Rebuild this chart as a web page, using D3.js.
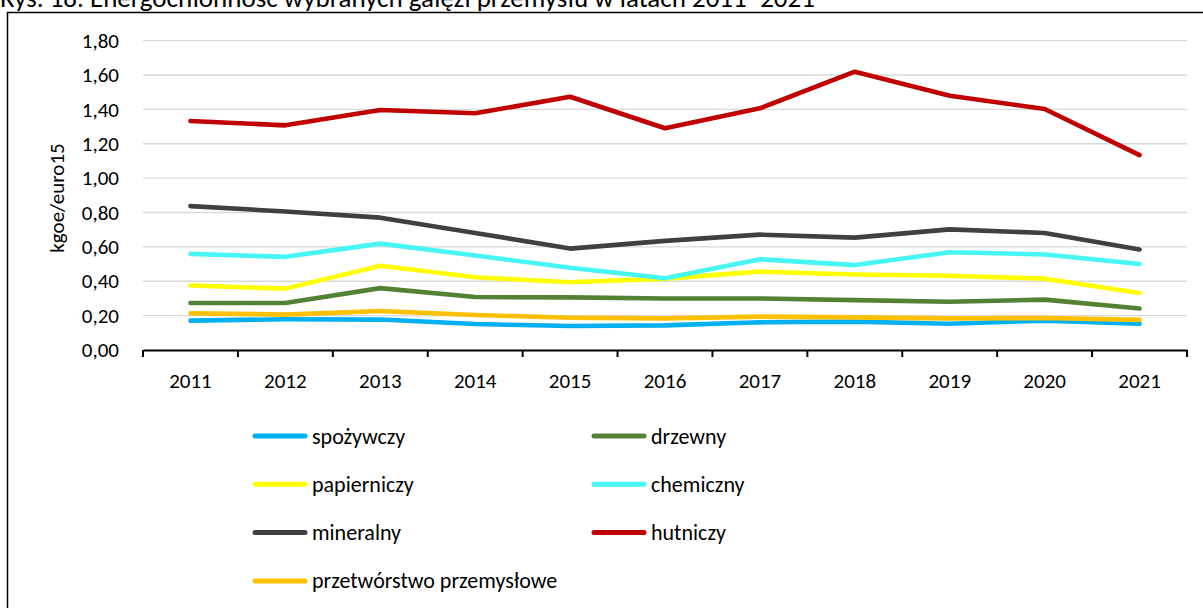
<!DOCTYPE html>
<html>
<head>
<meta charset="utf-8">
<script src="https://cdn.jsdelivr.net/npm/d3@7"></script>
<style>
  html, body { margin: 0; padding: 0; background: #fff; overflow: hidden; }
  svg { display: block; }
  svg text { font-family: Carlito, Calibri, Lato, sans-serif; fill: #000; }
</style>
</head>
<body>
<script>
// lata i wartości (kgoe/euro15)
const years = ['2011','2012','2013','2014','2015','2016','2017','2018','2019','2020','2021'];
const yTicks = [0, 0.2, 0.4, 0.6, 0.8, 1.0, 1.2, 1.4, 1.6, 1.8];

const spozywczy   = [0.171, 0.179, 0.177, 0.151, 0.140, 0.143, 0.161, 0.165, 0.153, 0.171, 0.153];
const drzewny     = [0.273, 0.273, 0.360, 0.308, 0.306, 0.300, 0.300, 0.290, 0.281, 0.293, 0.241];
const papierniczy = [0.375, 0.357, 0.490, 0.423, 0.394, 0.415, 0.456, 0.439, 0.432, 0.415, 0.332];
const chemiczny   = [0.559, 0.542, 0.619, 0.550, 0.478, 0.417, 0.528, 0.494, 0.569, 0.556, 0.500];
const mineralny   = [0.837, 0.806, 0.770, 0.681, 0.590, 0.635, 0.671, 0.654, 0.702, 0.681, 0.585];
const hutniczy    = [1.332, 1.307, 1.396, 1.377, 1.473, 1.290, 1.406, 1.619, 1.479, 1.402, 1.134];
const przetworstwo= [0.214, 0.206, 0.227, 0.204, 0.188, 0.184, 0.194, 0.190, 0.184, 0.186, 0.175];

const seriesNames  = ['spożywczy','drzewny','papierniczy','chemiczny','mineralny','hutniczy','przetwórstwo przemysłowe'];
const seriesValues = [spozywczy, drzewny, papierniczy, chemiczny, mineralny, hutniczy, przetworstwo];
const seriesColors = ['#00B0F0','#548235','#FFFF00','#47F5F5','#404040','#C00000','#FFC000'];

const W = 1203, H = 608;
const pLeft = 143, pRight = 1187, pTop = 40.6, pBottom = 350;
const font = 'Carlito, Calibri, Lato, sans-serif';

const svg = d3.select('body').append('svg')
    .attr('width', W)
    .attr('height', H);

// tytuł (w oryginale przycięty u góry)
svg.append('text')
    .attr('x', 0)
    .attr('y', 7)
    .style('font-size', '27px')
    .text('Rys. 18. Energochłonność wybranych gałęzi przemysłu w latach 2011–2021');

// ramka wykresu - widać tylko górną i lewą krawędź
svg.append('path')
    .attr('d', `M7.5,${H}V12.5H${W}`)
    .attr('fill', 'none')
    .attr('stroke', '#000')
    .attr('stroke-width', 1.5);

const x = d3.scaleBand()
    .domain(years)
    .range([pLeft, pRight]);

const y = d3.scaleLinear()
    .domain([0, 1.8])
    .range([pBottom, pTop]);

// linie siatki
svg.append('g')
    .selectAll('line')
    .data(yTicks.filter(d => d > 0))
    .enter()
    .append('line')
    .attr('x1', pLeft)
    .attr('x2', pRight)
    .attr('y1', d => y(d))
    .attr('y2', d => y(d))
    .attr('stroke', '#D9D9D9')
    .attr('stroke-width', 1.3);

// oś Y - same etykiety
let yAxis = svg.append('g')
    .attr('transform', `translate(${pLeft},0)`)
    .call(d3.axisLeft(y).tickValues(yTicks).tickSize(0).tickPadding(24)
        .tickFormat(d => d3.format('.2f')(d).replace('.', ',')));
yAxis.select('.domain').remove();
yAxis.selectAll('text')
    .style('font-size', '21px')
    .style('font-family', font);

svg.append('text')
    .attr('transform', `translate(64,198) rotate(-90)`)
    .attr('text-anchor', 'middle')
    .style('font-size', '21px')
    .text('kgoe/euro15');

// oś X
let xAxis = svg.append('g')
    .attr('transform', `translate(0,${pBottom})`)
    .call(d3.axisBottom(x).tickSize(0).tickPadding(23));
xAxis.select('.domain')
    .attr('stroke', '#000')
    .attr('stroke-width', 2);
xAxis.selectAll('text')
    .style('font-size', '21px')
    .style('font-family', font);

// znaczniki między kategoriami
svg.append('g')
    .selectAll('line')
    .data(years.concat(['end']))
    .enter()
    .append('line')
    .attr('x1', (d, i) => i < years.length ? x(d) : pRight)
    .attr('x2', (d, i) => i < years.length ? x(d) : pRight)
    .attr('y1', pBottom)
    .attr('y2', pBottom + 7)
    .attr('stroke', '#000')
    .attr('stroke-width', 2);

// serie
const line = d3.line()
    .x((d, i) => x(years[i]) + x.bandwidth() / 2)
    .y(d => y(d));

svg.append('g')
    .selectAll('path')
    .data(seriesValues)
    .enter()
    .append('path')
    .attr('d', d => line(d))
    .attr('fill', 'none')
    .attr('stroke', (d, i) => seriesColors[i])
    .attr('stroke-width', 4.6)
    .attr('stroke-linecap', 'round')
    .attr('stroke-linejoin', 'round');

// legenda
const legend = svg.append('g')
    .selectAll('g')
    .data(seriesNames)
    .enter()
    .append('g')
    .attr('transform', (d, i) => `translate(${i % 2 === 0 ? 255 : 594},${436 + Math.floor(i / 2) * 48.3})`);

legend.append('line')
    .attr('x1', 0)
    .attr('x2', 50)
    .attr('stroke', (d, i) => seriesColors[i])
    .attr('stroke-width', 5)
    .attr('stroke-linecap', 'round');

legend.append('text')
    .attr('x', 57)
    .attr('y', 7.5)
    .style('font-size', '22px')
    .text(d => d);
</script>
</body>
</html>
